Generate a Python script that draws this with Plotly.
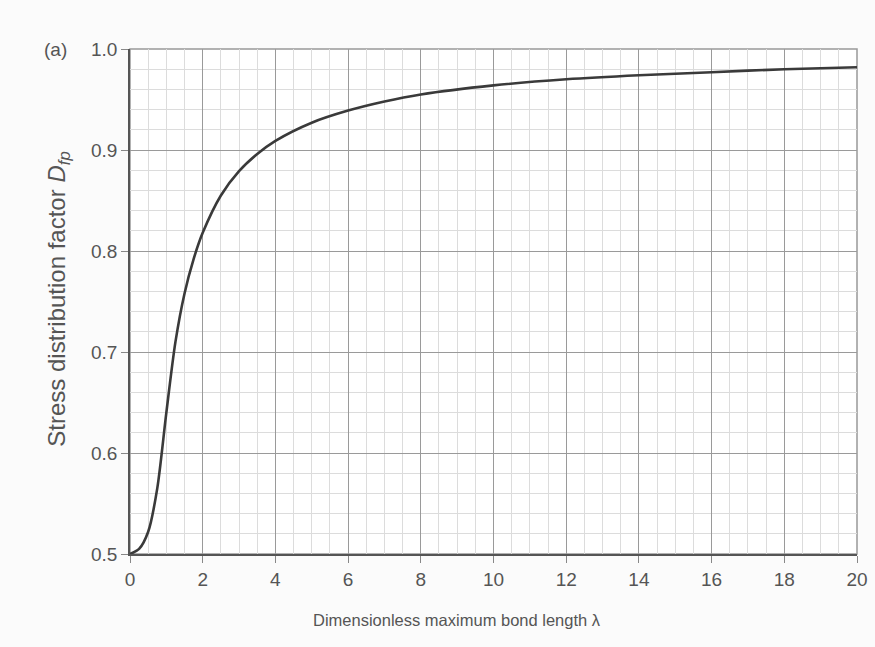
import plotly.graph_objects as go

# Values
lam = [0, 0.25, 0.5, 0.75, 1.0, 1.25, 1.5, 1.75, 2.0, 2.5, 3.0, 3.5, 4.0,
       5.0, 6.0, 7.0, 8.0, 10.0, 12.0, 14.0, 16.0, 18.0, 20.0]
dfp = [0.500, 0.505, 0.522, 0.565, 0.640, 0.710, 0.758, 0.792, 0.818, 0.855,
       0.879, 0.896, 0.909, 0.927, 0.939, 0.948, 0.955, 0.964, 0.970, 0.974,
       0.977, 0.980, 0.982]
x_ticks = [0, 2, 4, 6, 8, 10, 12, 14, 16, 18, 20]
y_ticks = [0.5, 0.6, 0.7, 0.8, 0.9, 1.0]
y_tick_text = ["0.5", "0.6", "0.7", "0.8", "0.9", "1.0"]

regular = "Liberation Sans, Arial, sans-serif"
tick_color = "#555555"

fig = go.Figure()
fig.add_trace(go.Scatter(
    x=lam, y=dfp, mode="lines",
    line=dict(color="#3a3a3a", width=2.6, shape="spline", smoothing=0.8),
    showlegend=False, hoverinfo="skip",
))

fig.update_layout(
    width=875, height=647,
    margin=dict(l=130, r=18, t=49, b=93),
    paper_bgcolor="#fbfbfb",
    plot_bgcolor="#ffffff",
    font=dict(family=regular, size=19, color=tick_color),
    xaxis=dict(
        range=[0, 20], tickvals=x_ticks, ticks="outside", ticklen=7,
        tickcolor="#888888", tickfont=dict(family=regular, size=19, color=tick_color),
        showgrid=True, gridcolor="#9a9a9a", gridwidth=1,
        minor=dict(dtick=0.5, showgrid=True, gridcolor="#dcdcdc", gridwidth=1),
        showline=True, linecolor="#555555", linewidth=2, mirror=False,
        zeroline=False, fixedrange=True, automargin=False,
    ),
    yaxis=dict(
        range=[0.5, 1.0], tickvals=y_ticks, ticktext=y_tick_text,
        ticks="outside", ticklen=7, tickcolor="#888888",
        tickfont=dict(family=regular, size=19, color=tick_color),
        showgrid=True, gridcolor="#9a9a9a", gridwidth=1,
        minor=dict(dtick=0.02, showgrid=True, gridcolor="#dcdcdc", gridwidth=1),
        showline=True, linecolor="#555555", linewidth=1.5, mirror=False,
        zeroline=False, fixedrange=True, automargin=False,
    ),
    annotations=[
        dict(text="Dimensionless maximum bond length λ",
             xref="paper", yref="paper", x=0.45, y=-0.108,
             xanchor="center", yanchor="top", showarrow=False,
             font=dict(family=regular, size=16.5, color=tick_color)),
        dict(text="Stress distribution factor <i>D</i><sub><i>fp</i></sub>",
             xref="paper", yref="paper", x=-0.098, y=0.505,
             xanchor="center", yanchor="middle", textangle=-90, showarrow=False,
             font=dict(family=regular, size=24, color=tick_color)),
        dict(text="(a)", xref="paper", yref="paper", x=-0.102, y=1.0,
             xanchor="center", yanchor="middle", showarrow=False,
             font=dict(family=regular, size=19, color=tick_color)),
    ],
)

# top and right border of the graph-paper frame
fig.add_shape(type="rect", xref="paper", yref="paper", x0=0, y0=0, x1=1, y1=1,
              line=dict(color="#999999", width=1.5), layer="below")

fig.write_html("out.html")
